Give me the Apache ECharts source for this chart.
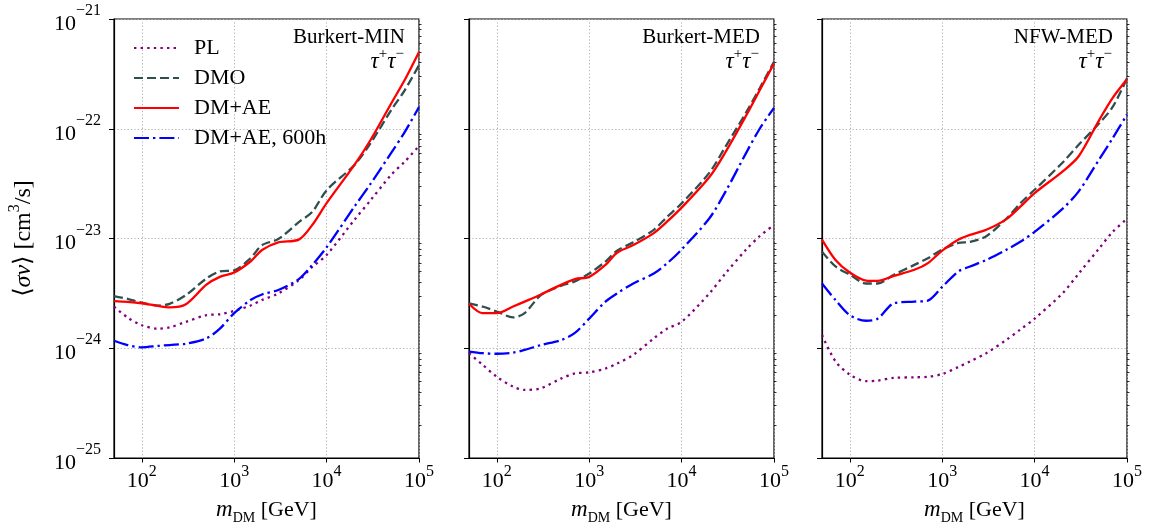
<!DOCTYPE html>
<html><head><meta charset="utf-8">
<script src="https://cdn.jsdelivr.net/npm/echarts@6/dist/echarts.min.js"></script>
<style>html,body{margin:0;padding:0;background:#fff}#c{width:1151px;height:527px}</style>
</head><body><div id="c"></div>
<script>
// ---- data ----
const massGeV = [50,70,100,150,200,300,500,700,1000,1500,2000,3000,5000,7000,1e4,2e4,3e4,5e4,7e4,1e5];
const xTickExponents = [2,3,4,5];
const yTickExponents = [-25,-24,-23,-22,-21];
const panelLabels = ['Burkert-MIN','Burkert-MED','NFW-MED'];
const seriesNames = ['PL','DMO','DM+AE','DM+AE, 600h'];

// Panel 1: Burkert-MIN
const minPL   = [2.40e-24,1.91e-24,1.62e-24,1.51e-24,1.55e-24,1.74e-24,2.00e-24,2.04e-24,2.19e-24,2.45e-24,2.75e-24,3.16e-24,4.17e-24,5.50e-24,7.08e-24,1.48e-23,2.24e-23,3.80e-23,5.01e-23,6.97e-23];
const minDMO  = [2.99e-24,2.82e-24,2.60e-24,2.45e-24,2.54e-24,3.05e-24,4.32e-24,5.01e-24,5.13e-24,6.61e-24,8.71e-24,9.89e-24,1.41e-23,1.75e-23,2.75e-23,4.68e-23,7.41e-23,1.48e-22,2.24e-22,3.80e-22];
const minAE   = [2.69e-24,2.65e-24,2.57e-24,2.43e-24,2.36e-24,2.52e-24,3.80e-24,4.47e-24,4.90e-24,6.17e-24,7.85e-24,9.23e-24,9.77e-24,1.33e-23,2.10e-23,4.68e-23,7.94e-23,1.70e-22,2.78e-22,5.01e-22];
const minAE600= [1.17e-24,1.07e-24,1.02e-24,1.05e-24,1.07e-24,1.10e-24,1.23e-24,1.51e-24,2.09e-24,2.75e-24,3.09e-24,3.39e-24,4.27e-24,5.75e-24,8.32e-24,1.95e-23,3.16e-23,6.03e-23,9.33e-23,1.58e-22];

// Panel 2: Burkert-MED
const medPL   = [9.02e-25,7.08e-25,5.50e-25,4.47e-25,4.17e-25,4.32e-25,5.31e-25,5.89e-25,6.03e-25,6.53e-25,7.24e-25,8.71e-25,1.23e-24,1.51e-24,1.74e-24,3.16e-24,4.84e-24,7.94e-24,1.05e-23,1.33e-23];
const medDMO  = [2.57e-24,2.40e-24,2.16e-24,1.91e-24,2.09e-24,3.05e-24,3.72e-24,4.07e-24,4.79e-24,6.17e-24,7.76e-24,9.23e-24,1.20e-23,1.58e-23,2.09e-23,3.98e-23,6.92e-23,1.41e-22,2.34e-22,4.07e-22];
const medAE   = [2.54e-24,2.09e-24,2.09e-24,2.40e-24,2.66e-24,3.09e-24,3.80e-24,4.27e-24,4.47e-24,5.75e-24,7.41e-24,8.71e-24,1.12e-23,1.43e-23,1.91e-23,3.63e-23,6.17e-23,1.32e-22,2.24e-22,3.94e-22];
const medAE600= [9.33e-25,9.02e-25,8.91e-25,9.12e-25,9.66e-25,1.07e-24,1.19e-24,1.38e-24,1.86e-24,2.66e-24,3.16e-24,3.89e-24,4.79e-24,5.96e-24,7.94e-24,1.53e-23,2.69e-23,6.03e-23,1.00e-22,1.55e-22];

// Panel 3: NFW-MED
const nfwPL   = [1.32e-24,7.59e-25,5.75e-25,5.01e-25,5.07e-25,5.37e-25,5.43e-25,5.50e-25,5.82e-25,6.76e-25,7.59e-25,9.02e-25,1.20e-24,1.48e-24,1.86e-24,3.16e-24,4.79e-24,8.13e-24,1.15e-23,1.51e-23];
const nfwDMO  = [7.59e-24,5.56e-24,4.68e-24,3.89e-24,3.89e-24,4.68e-24,5.75e-24,6.61e-24,7.94e-24,9.12e-24,9.33e-24,1.05e-23,1.53e-23,2.09e-23,2.78e-23,4.90e-23,7.14e-23,1.12e-22,1.58e-22,2.88e-22];
const nfwAE   = [9.77e-24,6.38e-24,4.90e-24,4.14e-24,4.11e-24,4.57e-24,5.19e-24,5.96e-24,7.76e-24,9.77e-24,1.08e-23,1.20e-23,1.51e-23,1.95e-23,2.59e-23,4.07e-23,5.62e-23,1.20e-22,1.91e-22,2.82e-22];
const nfwAE600= [3.89e-24,2.75e-24,2.00e-24,1.78e-24,1.86e-24,2.57e-24,2.66e-24,2.72e-24,3.63e-24,5.01e-24,5.56e-24,6.38e-24,7.94e-24,9.33e-24,1.15e-23,1.86e-23,2.69e-23,5.25e-23,8.22e-23,1.35e-22];

const panels = [
  [minPL, minDMO, minAE, minAE600],
  [medPL, medDMO, medAE, medAE600],
  [nfwPL, nfwDMO, nfwAE, nfwAE600]
];

// ---- styling / layout ----
const FONT = '"Liberation Serif", "DejaVu Serif", serif';
const colors = ['#800080', '#2F4F4F', '#FF0000', '#0000FF'];
const dashes = [[2.4, 4.2], [9, 4], 'solid', [15, 4, 2.4, 4]];
const LW = 2.3;
const GRID_LEFTS = [114, 469, 822];
const GRID_W = 305, GRID_TOP = 19, GRID_H = 439;
const W = 1151, H = 527;

const ySupRich = {
  b: {fontFamily: FONT, fontSize: 22, color: '#000', lineHeight: 32, verticalAlign: 'bottom'},
  s: {fontFamily: FONT, fontSize: 16, color: '#000', lineHeight: 16, verticalAlign: 'top'}
};
const xSupRich = {
  b: {fontFamily: FONT, fontSize: 22, color: '#000', lineHeight: 28, verticalAlign: 'bottom'},
  s: {fontFamily: FONT, fontSize: 16, color: '#000', lineHeight: 16, verticalAlign: 'top'}
};
const minorVals = [];
for (let n = -25; n < -21; n++) for (let k = 2; k <= 9; k++) minorVals.push(n + Math.log10(k));

const grids = [], xAxes = [], yAxes = [], series = [], graphics = [];
const xMin = Math.log10(massGeV[0]), xMax = Math.log10(massGeV[massGeV.length - 1]);

panels.forEach((pdata, p) => {
  grids.push({left: GRID_LEFTS[p], top: GRID_TOP, width: GRID_W, height: GRID_H,
    show: true, borderColor: '#000', borderWidth: 1.2, backgroundColor: 'transparent', containLabel: false, outerBoundsMode: 'none'});
  xAxes.push({
    type: 'value', gridIndex: p, min: xMin, max: xMax,
    axisLine: {show: true, onZero: false, lineStyle: {color: '#000', width: 1.2}},
    axisTick: {show: true, inside: false, length: 4.5, lineStyle: {color: '#000', width: 1}, customValues: xTickExponents},
    axisLabel: {show: true, margin: 6, customValues: xTickExponents,
      formatter: v => '{b|10}{s|' + Math.round(v) + '}', rich: xSupRich},
    splitLine: {show: true, lineStyle: {color: '#b0b0b0', type: [1.2, 2.2], width: 1}},
    name: '{i|m}{sub|DM}{t| [GeV]}', nameLocation: 'middle', nameGap: 37,
    nameTextStyle: {fontFamily: FONT, fontSize: 22, color: '#000',
      rich: {i: {fontFamily: FONT, fontSize: 23, fontStyle: 'italic', lineHeight: 30, verticalAlign: 'middle'},
             t: {fontFamily: FONT, fontSize: 22, lineHeight: 30, verticalAlign: 'middle'},
             sub: {fontFamily: FONT, fontSize: 14, lineHeight: 14, verticalAlign: 'bottom'}}}
  });
  yAxes.push({
    type: 'value', gridIndex: p, min: yTickExponents[0], max: yTickExponents[yTickExponents.length - 1], interval: 1,
    axisLine: {show: true, onZero: false, lineStyle: {color: '#000', width: 1.2}},
    axisTick: {show: true, inside: false, length: 5, lineStyle: {color: '#000', width: 1}},
    axisLabel: {show: p === 0, margin: 13, formatter: v => '{b|10}{s|\u2212' + Math.abs(Math.round(v)) + '}', rich: ySupRich},
    splitLine: {show: true, lineStyle: {color: '#b0b0b0', type: [1.2, 2.2], width: 1}},
    name: p === 0 ? '{t|\u27E8}{i|σv}{t|\u27E9 [cm}{s|3}{t|/s]}' : '', nameLocation: 'middle', nameGap: 78, nameRotate: 90,
    nameTextStyle: {fontFamily: FONT, fontSize: 24, color: '#000',
      rich: {t: {fontFamily: FONT, fontSize: 24, lineHeight: 29, verticalAlign: 'bottom'},
             i: {fontFamily: FONT, fontSize: 24, fontStyle: 'italic', lineHeight: 29, verticalAlign: 'bottom'},
             s: {fontFamily: FONT, fontSize: 16, lineHeight: 16, verticalAlign: 'top'}}}
  });
  // minor ticks axis (same scale, ticks only)
  yAxes.push({
    type: 'value', gridIndex: p, min: yTickExponents[0], max: yTickExponents[yTickExponents.length - 1],
    axisLine: {show: false}, splitLine: {show: false}, axisLabel: {show: false},
    axisTick: {show: true, inside: false, length: 2.5, lineStyle: {color: '#000', width: 0.8}, customValues: minorVals}
  });
  const yIdx = p * 2;
  pdata.forEach((vals, s) => {
    series.push({
      type: 'line', name: seriesNames[s], xAxisIndex: p, yAxisIndex: yIdx,
      data: massGeV.map((m, i) => [Math.log10(m), Math.log10(vals[i])]),
      showSymbol: false, symbol: 'none', smooth: 0.3, z: 3 + s,
      lineStyle: {color: colors[s], width: LW, type: dashes[s], cap: 'butt'},
      itemStyle: {color: colors[s]},
      emphasis: {disabled: true}, silent: true, clip: true
    });
  });
  const rx = GRID_LEFTS[p] + GRID_W - 14;
  graphics.push({type: 'text', x: rx, y: 37, z: 10,
    style: {text: panelLabels[p], font: '21px ' + FONT, fill: '#000', align: 'right', verticalAlign: 'middle'}});
  graphics.push({type: 'text', x: rx - 1, y: 60, z: 10,
    style: {text: '{t|τ}{s|+}{t|τ}{s|\u2212}', align: 'right', verticalAlign: 'middle', fill: '#000',
      rich: {t: {fontFamily: FONT, fontSize: 23, fontStyle: 'italic', lineHeight: 26, verticalAlign: 'bottom'},
             s: {fontFamily: FONT, fontSize: 15, lineHeight: 15, verticalAlign: 'top'}}}});
});

const chart = echarts.init(document.getElementById('c'), null, {renderer: 'canvas', width: W, height: H});
chart.setOption({
  animation: false,
  backgroundColor: '#fff',
  grid: grids, xAxis: xAxes, yAxis: yAxes, series: series,
  legend: {
    show: true, orient: 'vertical', left: 128, top: 32, itemWidth: 45, itemHeight: 14, itemGap: 8,
    data: seriesNames, selectedMode: false,
    itemStyle: {opacity: 0, borderWidth: 0},
    textStyle: {fontFamily: FONT, fontSize: 22, color: '#000', padding: [0, 0, 0, 10]}
  },
  graphic: graphics
});
</script></body></html>
